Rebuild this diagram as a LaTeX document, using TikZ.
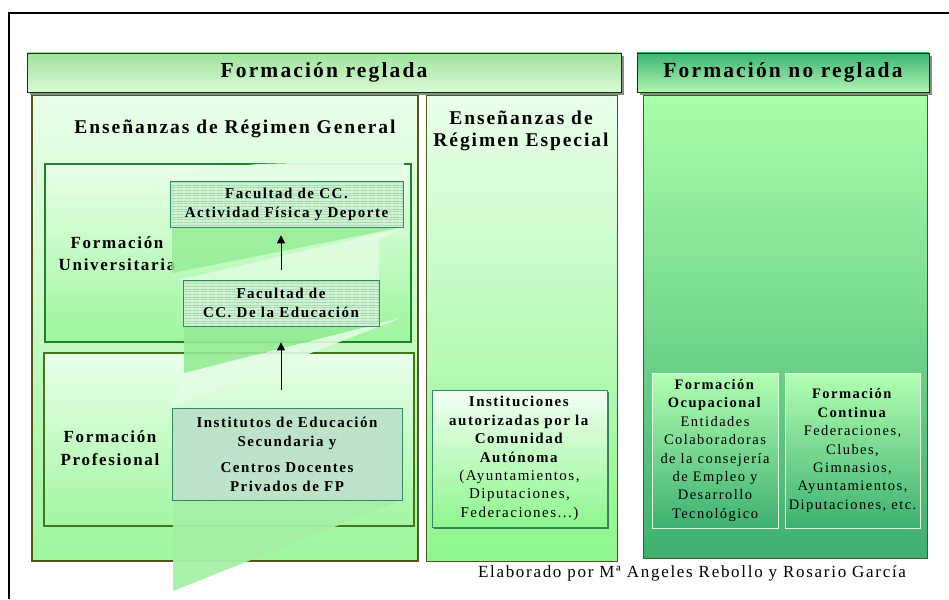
\documentclass[tikz,border=0pt]{standalone}
\usepackage{fontspec}
\setmainfont{Liberation Serif}
\newfontfamily\wide[LetterSpace=10]{Liberation Serif}
\usetikzlibrary{positioning,shadows,patterns.meta,arrows.meta}
\definecolor{hdrtop}{RGB}{160,226,156}
\definecolor{hdrbot}{RGB}{218,250,214}
\definecolor{nhdrtop}{RGB}{60,180,116}
\definecolor{nhdrbot}{RGB}{176,246,176}
\definecolor{paletop}{RGB}{234,255,234}
\definecolor{genbot}{RGB}{158,246,158}
\definecolor{espbot}{RGB}{142,246,142}
\definecolor{nrtop}{RGB}{170,255,170}
\definecolor{nrbot}{RGB}{62,176,112}
\definecolor{olivedk}{RGB}{84,84,30}
\definecolor{unigreen}{RGB}{30,130,40}
\definecolor{boxedge}{RGB}{48,138,98}
\definecolor{hatchbase}{RGB}{166,222,176}
\definecolor{hatchline}{RGB}{214,242,218}
\definecolor{ribdark}{RGB}{150,236,150}
\definecolor{riblight}{RGB}{228,252,228}
\tikzset{
  hdr/.style={draw=black!75!green,line width=.8pt,minimum height=39pt,inner sep=0pt,
    font=\wide\bfseries\fontsize{21.5}{24}\selectfont,
    drop shadow={shadow xshift=3pt,shadow yshift=-3pt,fill=black!45,opacity=1}},
  column/.style={draw=olivedk,line width=1.2pt,minimum height=466pt,inner sep=0pt,top color=paletop},
  part/.style={line width=1.2pt,inner sep=0pt,top color=paletop,bottom color=genbot},
  fac/.style={draw=boxedge,line width=.8pt,inner sep=0pt,align=center,
    preaction={fill=hatchbase},pattern={Lines[angle=0,distance=1.6pt,line width=.5pt]},pattern color=hatchline,
    font=\wide\bfseries\fontsize{15}{19}\selectfont},
  title/.style={align=center,font=\wide\bfseries\fontsize{19.5}{22}\selectfont},
  side/.style={align=center,font=\wide\bfseries\fontsize{17}{22.5}\selectfont},
  entity/.style={line width=.8pt,inner sep=0pt,align=center,font=\wide\fontsize{15}{18.4}\selectfont},
  up/.style={-{Triangle[length=8pt,width=8pt]},line width=1pt}
}
\begin{document}
\begin{tikzpicture}[x=1pt,y=-1pt]
\useasboundingbox (0,0) rectangle (949,599);
\node[column,minimum width=386pt,bottom color=genbot] (gen) at (225,328) {};
\node[column,minimum width=191pt,bottom color=espbot,line width=.9pt] (esp) at (521.5,328) {};
\node[column,minimum width=284pt,minimum height=463pt,top color=nrtop,bottom color=nrbot,line width=.9pt] (noreg) at (785,326.5) {};
\node[hdr,minimum width=594pt,top color=hdrtop,bottom color=hdrbot] (reglada) at (324,72.5) {Formación reglada};
\node[hdr,minimum width=292pt,top color=nhdrtop,bottom color=nhdrbot] (noreglada) at (783,72.5) {Formación no reglada};
\node[title] (tgen) at (235,129) {Enseñanzas de Régimen General};
\node[title] (tesp) at (521,131) {Enseñanzas de\\Régimen Especial};
\node[part,draw=unigreen,minimum width=366pt,minimum height=178pt] (univ) at (228,253) {};
\node[part,draw=olivedk!80!green,minimum width=370pt,minimum height=173pt,bottom color=genbot!95!white] (fp) at (229,439.5) {};
\node[side] (tuni) at (117,253.5) {Formación\\Universitaria};
\node[side] (tfp) at (110,448) {Formación\\Profesional};
\fill[ribdark!85!white,opacity=.95] (173,591) -- (402,500) -- (402,420) -- (173,420) -- cycle;
\fill[riblight,opacity=.9] (172,407) -- (401,318) -- (184,373) -- cycle;
\fill[ribdark,opacity=.9] (184,373) -- (184,326) -- (369,326) -- cycle;
\fill[ribdark,opacity=.85] (172,227) -- (403,227) -- (172,273) -- cycle;
\fill[white,opacity=.45] (178,280) -- (403,228) -- (379,240) -- (379,280) -- cycle;
\fill[riblight,opacity=.95] (170,181) -- (170,172) -- (258,164) -- (404,160) -- (404,181) -- cycle;
\node[fac,minimum width=233pt,minimum height=46pt] (afd) at (286.5,204) {Facultad de CC.\\Actividad Física y Deporte};
\node[fac,minimum width=196pt,minimum height=46pt] (edu) at (281,303) {Facultad de\\CC. De la Educación};
\node[fac,minimum width=230pt,minimum height=92pt,pattern={Lines[angle=45,distance=2.4pt,line width=.5pt]},pattern color=boxedge!35!white,preaction={fill=hatchbase!70!white}] (ies) at (287,454) {Institutos de Educación\\Secundaria y\\[7pt]Centros Docentes\\Privados de FP};
\draw[up,shorten <=10pt,shorten >=8pt] (edu.north) -- (edu.north |- afd.south);
\draw[up,shorten <=18pt,shorten >=16pt] (edu.south |- ies.north) -- (edu.south);
\node[entity,draw=boxedge,minimum width=175pt,minimum height=137pt,top color=paletop!60!white,bottom color=espbot,
  drop shadow={shadow xshift=2pt,shadow yshift=-2pt,fill=boxedge!70!black,opacity=.8}] (auton) at (519.5,458.5)
  {\textbf{Instituciones}\\\textbf{autorizadas por la}\\\textbf{Comunidad}\\\textbf{Autónoma}\\(Ayuntamientos,\\Diputaciones,\\Federaciones...)};
\node[entity,draw=riblight,minimum width=126pt,minimum height=155pt,top color=nrtop!90!white,bottom color=nrbot,font=\wide\fontsize{14.5}{18.4}\selectfont] (ocup) at (715,450.5)
  {\textbf{Formación}\\\textbf{Ocupacional}\\Entidades\\Colaboradoras\\de la consejería\\de Empleo y\\Desarrollo\\Tecnológico};
\node[entity,draw=riblight,minimum width=135pt,minimum height=155pt,top color=nrtop!90!white,bottom color=nrbot,font=\wide\fontsize{14.5}{18.4}\selectfont] (cont) at (852.5,450.5)
  {\textbf{Formación}\\\textbf{Continua}\\Federaciones,\\Clubes,\\Gimnasios,\\Ayuntamientos,\\Diputaciones, etc.};
\node[font=\wide\fontsize{17}{20}\selectfont] (credit) at (692,573) {Elaborado por Mª Angeles Rebollo y Rosario García};
\draw[line width=1.2pt] (9,599) -- (9,13) -- (949,13);
\end{tikzpicture}
\end{document}
